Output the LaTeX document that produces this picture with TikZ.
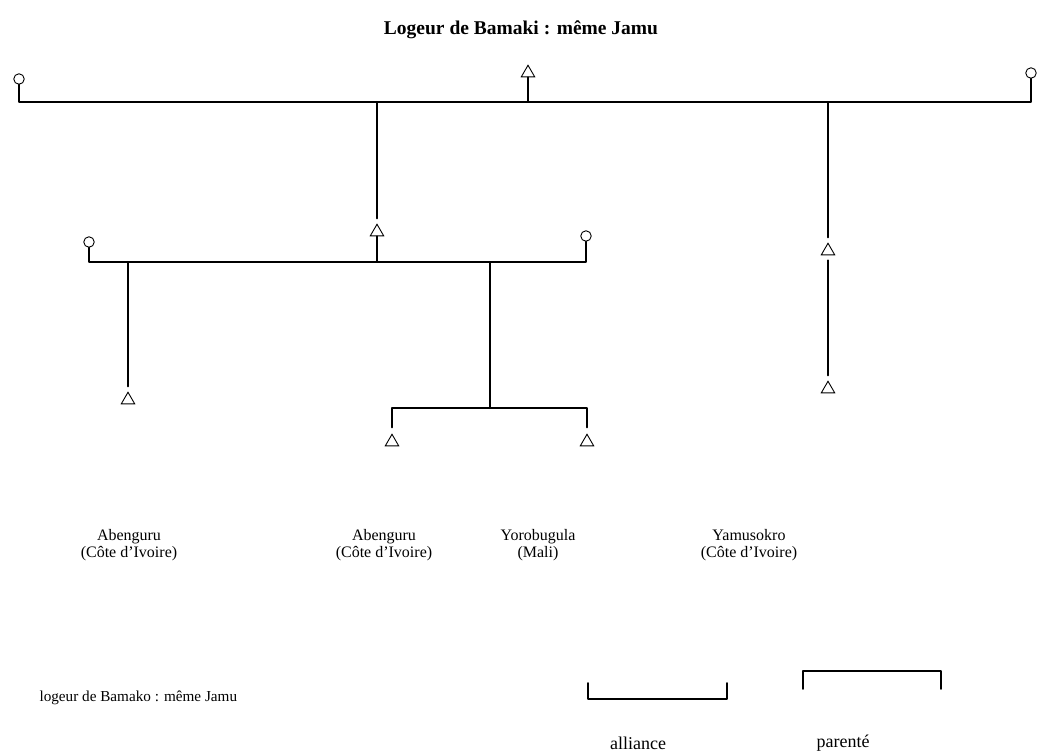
\documentclass[tikz,border=0pt]{standalone}
\usepackage{fontspec}
\setmainfont{Liberation Serif}
\usetikzlibrary{shapes.geometric}
\begin{document}
\begin{tikzpicture}[x=1pt,y=-1pt,
  kin/.style={line width=2pt,line cap=round,line join=round},
  fem/.style={circle,draw,line width=0.9pt,minimum size=10.5pt,inner sep=0pt},
  mal/.style={regular polygon,regular polygon sides=3,draw,line width=0.9pt,minimum size=15.5pt,inner sep=0pt},
  place/.style={align=center,font=\fontsize{16}{17.5}\selectfont},
  note/.style={font=\fontsize{15.2}{17}\selectfont},
  legend/.style={font=\fontsize{18}{20}\selectfont},
  titlefont/.style={font=\fontsize{19.5}{22}\selectfont\bfseries}]
\useasboundingbox (0,0) rectangle (1042,751);
\node[titlefont] (title) at (521,30) {Logeur de Bamaki : même Jamu};
% first generation
\node[fem] (c1) at (19,79) {};
\node[mal] (t1) at (528,73) {};
\node[fem] (c2) at (1031,73) {};
\coordinate (j1) at (377,102);
\coordinate (j2) at (828,102);
\draw[kin] (c1.south) |- (j1) -- (j2) -| (c2.south);
\draw[kin] (t1.south) -- (528,102);
% second generation
\node[mal] (t2) at (377,232) {};
\node[mal] (t3) at (828,251) {};
\node[mal] (t4) at (828,389) {};
\draw[kin,shorten >=5pt] (j1) -- (t2.north);
\draw[kin,shorten >=5pt] (j2) -- (t3.north);
\draw[kin,shorten <=5pt,shorten >=5pt] (t3.south) -- (t4.north);
\node[fem] (c3) at (89,242) {};
\node[fem] (c4) at (586,236) {};
\coordinate (j3) at (377,262);
\coordinate (j4) at (128,262);
\coordinate (j5) at (490,262);
\draw[kin] (c3.south) |- (j4) -- (j3) -- (j5) -| (c4.south);
\draw[kin] (t2.south) -- (j3);
% third generation
\node[mal] (t5) at (128,400) {};
\draw[kin,shorten >=5pt] (j4) -- (t5.north);
\coordinate (j6) at (490,408);
\node[mal] (t6) at (392,442) {};
\node[mal] (t7) at (587,442) {};
\draw[kin] (j5) -- (j6);
\draw[kin,shorten >=6pt] (j6) -| (t6.north);
\draw[kin,shorten >=6pt] (j6) -| (t7.north);
% places
\node[place] (p1) at (129,545) {Abenguru\\(Côte d’Ivoire)};
\node[place] (p2) at (384,545) {Abenguru\\(Côte d’Ivoire)};
\node[place] (p3) at (538,545) {Yorobugula\\(Mali)};
\node[place] (p4) at (749,545) {Yamusokro\\(Côte d’Ivoire)};
% legend
\node[note,anchor=west] (notetext) at (36,698) {logeur de Bamako : même Jamu};
\coordinate (a1) at (588,683);
\coordinate (a2) at (727,683);
\draw[kin,line width=1.6pt] (a1) -- (588,699) -- (727,699) -- (a2);
\coordinate (b1) at (803,689);
\coordinate (b2) at (941,689);
\draw[kin,line width=1.6pt] (b1) -- (803,671) -- (941,671) -- (b2);
\node[legend] (la) at (638,743) {alliance};
\node[legend] (lp) at (843,743) {parenté};
\end{tikzpicture}
\end{document}
